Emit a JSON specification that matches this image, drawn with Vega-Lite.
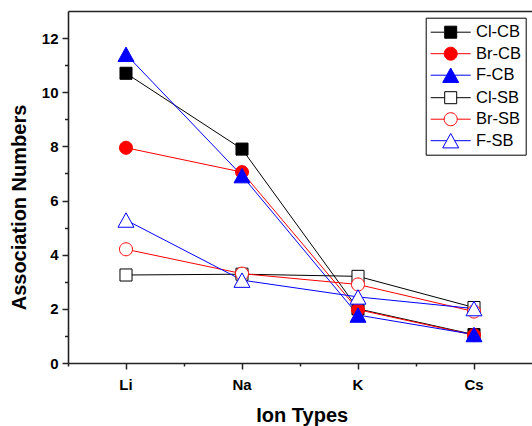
{
  "$schema": "https://vega.github.io/schema/vega-lite/v6.json",
  "width": 464,
  "height": 352,
  "autosize": {"type": "none"},
  "padding": {"left": 68, "top": 11, "right": 0, "bottom": 63},
  "background": "white",
  "data": {
    "values": [
      {"ion": "Li", "series": "Cl-CB", "value": 10.7},
      {"ion": "Na", "series": "Cl-CB", "value": 7.9},
      {"ion": "K", "series": "Cl-CB", "value": 2.0},
      {"ion": "Cs", "series": "Cl-CB", "value": 1.05},
      {"ion": "Li", "series": "Br-CB", "value": 7.95},
      {"ion": "Na", "series": "Br-CB", "value": 7.05},
      {"ion": "K", "series": "Br-CB", "value": 1.97},
      {"ion": "Cs", "series": "Br-CB", "value": 1.03},
      {"ion": "Li", "series": "F-CB", "value": 11.4},
      {"ion": "Na", "series": "F-CB", "value": 6.92},
      {"ion": "K", "series": "F-CB", "value": 1.77},
      {"ion": "Cs", "series": "F-CB", "value": 1.05},
      {"ion": "Li", "series": "Cl-SB", "value": 3.25},
      {"ion": "Na", "series": "Cl-SB", "value": 3.28},
      {"ion": "K", "series": "Cl-SB", "value": 3.2},
      {"ion": "Cs", "series": "Cl-SB", "value": 2.05},
      {"ion": "Li", "series": "Br-SB", "value": 4.2},
      {"ion": "Na", "series": "Br-SB", "value": 3.3},
      {"ion": "K", "series": "Br-SB", "value": 2.9},
      {"ion": "Cs", "series": "Br-SB", "value": 1.9},
      {"ion": "Li", "series": "F-SB", "value": 5.28},
      {"ion": "Na", "series": "F-SB", "value": 3.06},
      {"ion": "K", "series": "F-SB", "value": 2.44},
      {"ion": "Cs", "series": "F-SB", "value": 2.01}
    ]
  },
  "layer": [
    {
      "mark": {"type": "line", "strokeWidth": 1},
      "encoding": {
        "x": {
          "field": "ion", "type": "nominal", "bandPosition": 0.5,
          "scale": {"type": "band", "domain": ["Li", "Na", "K", "Cs"], "paddingInner": 0, "paddingOuter": -0.0205, "align": 0},
          "axis": {"orient": "bottom", "title": "Ion Types", "labelAngle": 0, "tickSize": 6, "labelPadding": 8, "labelBaseline": "top", "domain": true, "titleX": 233.7, "titleY": 58.7, "titleBaseline": "alphabetic", "titleAlign": "center"}
        },
        "y": {
          "field": "value", "type": "quantitative",
          "scale": {"domain": [0, 13], "nice": false},
          "axis": {"orient": "left", "title": "Association Numbers", "values": [0, 2, 4, 6, 8, 10, 12], "tickSize": 6, "labelPadding": 4, "domain": true, "titleX": -43, "titleY": 196, "titleAngle": -90, "titleBaseline": "alphabetic", "titleAlign": "center"}
        },
        "color": {
          "field": "series", "type": "nominal",
          "scale": {"domain": ["Cl-CB", "Br-CB", "F-CB", "Cl-SB", "Br-SB", "F-SB"], "range": ["#000000", "#ff0000", "#0000ff", "#000000", "#ff0000", "#0000ff"]},
          "legend": null
        },
        "order": {"value": null}
      }
    },
    {
      "mark": {"type": "point", "filled": false, "opacity": 1, "strokeWidth": 1, "size": 196},
      "encoding": {
        "x": {
          "field": "ion", "type": "nominal", "bandPosition": 0.5,
          "scale": {"type": "band", "domain": ["Li", "Na", "K", "Cs"], "paddingInner": 0, "paddingOuter": -0.0205, "align": 0},
          "axis": {"orient": "bottom", "title": null, "labels": false, "domain": false, "tickSize": 3, "bandPosition": 0}
        },
        "y": {
          "field": "value", "type": "quantitative",
          "scale": {"domain": [0, 13], "nice": false},
          "axis": {"orient": "left", "title": null, "labels": false, "domain": false, "tickSize": 3.5, "values": [1, 3, 5, 7, 9, 11]}
        },
        "shape": {
          "field": "series", "type": "nominal",
          "scale": {
            "domain": ["Cl-CB", "Br-CB", "F-CB", "Cl-SB", "Br-SB", "F-SB"],
            "range": [
              "M-0.86,-0.86H0.86V0.86H-0.86Z",
              "M0.93,0A0.93,0.93,0,1,1,-0.93,0A0.93,0.93,0,1,1,0.93,0Z",
              "M0,-1.03L1.14,1.03L-1.14,1.03Z",
              "M-0.86,-0.86H0.86V0.86H-0.86Z",
              "M0.93,0A0.93,0.93,0,1,1,-0.93,0A0.93,0.93,0,1,1,0.93,0Z",
              "M0,-1.03L1.14,1.03L-1.14,1.03Z"
            ]
          },
          "legend": null
        },
        "fill": {
          "field": "series", "type": "nominal",
          "scale": {"domain": ["Cl-CB", "Br-CB", "F-CB", "Cl-SB", "Br-SB", "F-SB"], "range": ["#000000", "#ff0000", "#0000ff", "#ffffff", "#ffffff", "#ffffff"]},
          "legend": null
        },
        "stroke": {
          "field": "series", "type": "nominal",
          "scale": {"domain": ["Cl-CB", "Br-CB", "F-CB", "Cl-SB", "Br-SB", "F-SB"], "range": ["#000000", "#ff0000", "#0000ff", "#000000", "#ff0000", "#0000ff"]},
          "legend": null
        }
      }
    },
    {
      "transform": [{"filter": "false"}],
      "mark": {"type": "point", "filled": false, "opacity": 1, "strokeWidth": 1, "size": 400},
      "encoding": {
        "x": {
          "field": "ion", "type": "nominal", "bandPosition": 0.5,
          "scale": {"type": "band", "domain": ["Li", "Na", "K", "Cs"], "paddingInner": 0, "paddingOuter": -0.0205, "align": 0},
          "axis": {"orient": "top", "title": null, "labels": false, "ticks": false, "domain": true}
        },
        "shape": {
          "field": "series", "type": "nominal",
          "scale": {
            "domain": ["Cl-CB", "Br-CB", "F-CB", "Cl-SB", "Br-SB", "F-SB"],
            "range": [
              "M-0.95,0H0.45M1.65,0H3.05M0.45,-0.6H1.65V0.6H0.45Z",
              "M-0.95,0H0.4M1.7,0H3.05M1.7,0A0.65,0.65,0,1,1,0.4,0A0.65,0.65,0,1,1,1.7,0Z",
              "M-0.95,0H0.65M1.45,0H3.05M1.05,-0.72L1.85,0.72L0.25,0.72Z",
              "M-0.95,0H0.45M1.65,0H3.05M0.45,-0.6H1.65V0.6H0.45Z",
              "M-0.95,0H0.4M1.7,0H3.05M1.7,0A0.65,0.65,0,1,1,0.4,0A0.65,0.65,0,1,1,1.7,0Z",
              "M-0.95,0H0.65M1.45,0H3.05M1.05,-0.72L1.85,0.72L0.25,0.72Z"
            ]
          },
          "legend": {"title": null, "orient": "none", "legendX": 357.7, "legendY": 6.7, "symbolSize": 400}
        },
        "fill": {
          "field": "series", "type": "nominal",
          "scale": {"domain": ["Cl-CB", "Br-CB", "F-CB", "Cl-SB", "Br-SB", "F-SB"], "range": ["#000000", "#ff0000", "#0000ff", "#ffffff", "#ffffff", "#ffffff"]},
          "legend": {"title": null, "orient": "none", "legendX": 357.7, "legendY": 6.7, "symbolSize": 400}
        },
        "stroke": {
          "field": "series", "type": "nominal",
          "scale": {"domain": ["Cl-CB", "Br-CB", "F-CB", "Cl-SB", "Br-SB", "F-SB"], "range": ["#000000", "#ff0000", "#0000ff", "#000000", "#ff0000", "#0000ff"]},
          "legend": {"title": null, "orient": "none", "legendX": 357.7, "legendY": 6.7, "symbolSize": 400}
        }
      }
    }
  ],
  "resolve": {
    "scale": {"color": "independent", "shape": "independent", "fill": "independent", "stroke": "independent"},
    "axis": {"x": "independent", "y": "independent"}
  },
  "config": {
    "view": {"stroke": null},
    "axis": {
      "grid": false,
      "labelFont": "Liberation Sans",
      "labelFontWeight": "bold",
      "labelFontSize": 15,
      "labelColor": "#000000",
      "titleFont": "Liberation Sans",
      "titleFontWeight": "bold",
      "titleFontSize": 20,
      "titleColor": "#000000",
      "domainColor": "#222222",
      "domainWidth": 1.6,
      "tickColor": "#222222",
      "tickWidth": 1.5
    },
    "legend": {
      "labelFont": "Liberation Sans",
      "labelFontSize": 16.5,
      "labelColor": "#000000",
      "labelOffset": 25.3,
      "padding": 4,
      "rowPadding": 2.5,
      "strokeColor": "#000000",
      "strokeWidth": 1,
      "fillColor": "#ffffff",
      "symbolStrokeWidth": 1,
      "labelLimit": 200
    }
  }
}
